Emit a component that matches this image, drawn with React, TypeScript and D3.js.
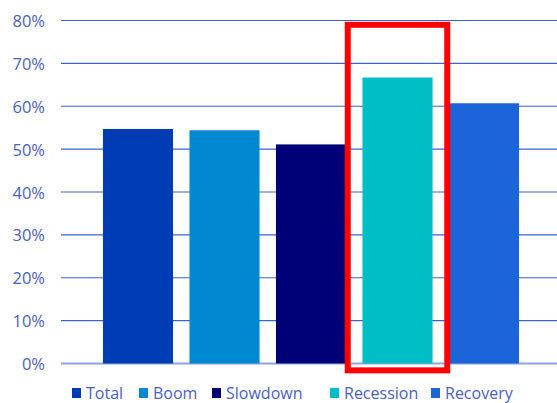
import React from "react";
import * as d3 from "d3";

const categories = ["Total", "Boom", "Slowdown", "Recession", "Recovery"];
const values = [54.7, 54.4, 51.1, 66.7, 60.7];
const colors = ["#003cb4", "#0088d0", "#000077", "#00bec6", "#1c64d9"];
const yTicks = [0, 10, 20, 30, 40, 50, 60, 70, 80];
const highlighted = "Recession";
const legendX = [72, 139, 212, 330, 431];

const W = 557;
const H = 403;

export default function App() {
  const x = d3
    .scaleBand<string>()
    .domain(categories)
    .range([61, 557])
    .paddingInner(0.19)
    .paddingOuter(0.462)
    .align(0.525);
  const y = d3.scaleLinear().domain([0, 80]).range([363.5, 20.5]);
  const bw = x.bandwidth();
  const hx = (x(highlighted) as number) + bw / 2;
  const halfBox = x.step() * 0.575;
  const font = "'Open Sans', 'Noto Sans', sans-serif";
  const textColor = "#4a60c4";

  return (
    <svg
      width={W}
      height={H}
      style={{ position: "absolute", left: 0, top: 0, background: "#fff" }}
    >
      {yTicks.map((t) => (
        <g key={t}>
          <line
            x1={61}
            x2={W}
            y1={y(t)}
            y2={y(t)}
            stroke={t === 0 ? "#8ea6dc" : "#3a64cc"}
            strokeWidth={t === 0 ? 2 : 1.2}
          />
          <text
            x={45}
            y={y(t)}
            textAnchor="end"
            dominantBaseline="central"
            fontFamily={font}
            fontSize={16.5}
            fill={textColor}
          >
            {t}%
          </text>
        </g>
      ))}
      {categories.map((c, i) => (
        <rect
          key={c}
          x={x(c)}
          y={y(values[i])}
          width={bw}
          height={y(0) - y(values[i])}
          fill={colors[i]}
        />
      ))}
      <rect
        x={hx - halfBox}
        y={y(79)}
        width={halfBox * 2}
        height={y(-1.6) - y(79)}
        fill="none"
        stroke="#ff0000"
        strokeWidth={6}
      />
      {categories.map((c, i) => (
        <g key={"lg" + c} transform={`translate(${legendX[i]},393)`}>
          <rect x={0} y={-5} width={9} height={10} fill={colors[i]} />
          <text
            x={14}
            y={0}
            dominantBaseline="central"
            fontFamily={font}
            fontSize={16}
            fill={textColor}
          >
            {c}
          </text>
        </g>
      ))}
    </svg>
  );
}
